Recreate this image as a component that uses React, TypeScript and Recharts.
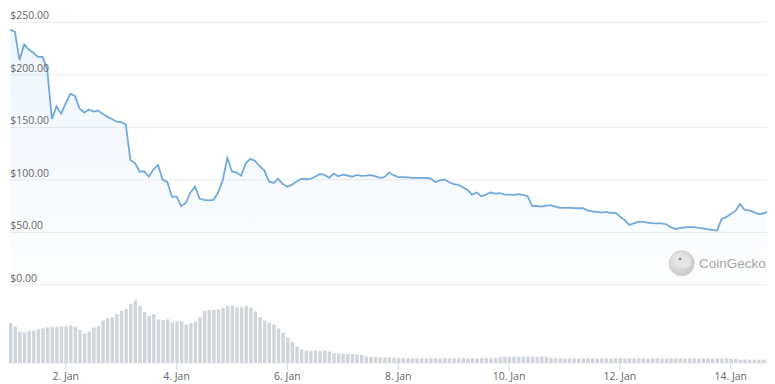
import React from "react";
import {
  ComposedChart,
  Area,
  Bar,
  XAxis,
  YAxis,
  CartesianGrid,
} from "recharts";

// Price (USD) every 2 hours starting 1 Jan 00:00
const prices: number[] = [
  243, 241, 214, 229, 224, 221, 217, 217, 205, 158,
  170, 163, 173, 182, 180, 168, 164, 167, 165, 166,
  163, 160, 158, 155.5, 155, 153, 119, 116, 108, 108,
  103, 110, 114, 100, 98, 84, 84, 75, 78, 88,
  93.6, 82, 81, 80.5, 81, 88, 100, 121, 108, 107,
  104, 116, 120, 118, 113, 109, 98.5, 97, 101, 96,
  93.5, 95.5, 98.4, 101, 100.6, 101, 103, 105.5, 105, 102,
  106, 103.5, 105, 104, 103, 104.8, 103.8, 104, 104.5, 103.5,
  102, 102.5, 107, 104.5, 102.6, 102.6, 102.3, 102, 101.9, 101.9,
  101.8, 101.5, 98, 99.5, 100.5, 98, 96, 95.2, 93, 90.5,
  86, 88, 84.5, 86, 88, 87, 87.3, 86, 86, 85.7,
  86.5, 85.7, 84.5, 75, 75.2, 74.6, 75.5, 76, 74.6, 73.5,
  73.4, 73.6, 73.2, 73, 73, 71, 70, 69.5, 68.9, 69.5,
  68.5, 68.9, 65.2, 62, 57.2, 58.7, 60, 60, 59.3, 58.8,
  58.7, 58.7, 57.8, 55, 53.3, 54, 54.8, 55, 55, 54.3,
  53.8, 53, 52.5, 51.8, 62.5, 64.5, 67.6, 70.5, 77, 71.5,
  71, 69.3, 67.5, 68, 69.8,
];

// Trading volume (USD millions) for the same periods
const volumes: number[] = [
  80, 73, 63, 61, 64, 65, 67, 69, 71, 72,
  72.6, 72.6, 73, 74.6, 72.6, 66, 59, 63, 71, 74,
  85, 89.4, 91.6, 98, 104, 108, 118, 125, 114, 102,
  94, 98, 87, 86, 87, 81, 83, 84, 77, 79.6,
  82.6, 92, 104.6, 106, 106, 107, 110, 114, 115, 111.4,
  111.4, 114, 111, 103, 92, 85, 81, 77, 69, 61,
  51, 42, 33, 27, 24.6, 24.6, 24.8, 24.4, 24.6, 23,
  19.4, 19, 18.6, 18.4, 18, 17, 16, 13, 12.4, 12,
  11, 10.8, 11.2, 10.4, 9.8, 9.4, 9.6, 9.2, 9.4, 9.6,
  9.2, 9.4, 9.4, 9.2, 9.6, 9.4, 9.2, 9.4, 9.6, 9.2,
  9.4, 9.2, 9.4, 9.6, 9.4, 9.6, 11.6, 12.4, 12.8, 12.6,
  11.8, 12.6, 12.4, 12.8, 12.2, 12.6, 12.4, 10.4, 9.6, 9.2,
  9.2, 9.0, 9.4, 9.2, 9.0, 9.4, 9.2, 9.0, 9.2, 9.4,
  9.0, 9.2, 9.4, 9.0, 9.2, 9.0, 9.4, 9.2, 9.0, 9.2,
  9.4, 9.0, 9.2, 9.4, 9.0, 9.2, 9.0, 9.4, 9.2, 9.0,
  9.2, 9.0, 8.8, 9.2, 8.6, 9.0, 8.4, 8.0, 6.6, 7.0,
  6.4, 6.8, 6.2, 6.6, 6.4,
];

const STEP_HOURS = 2;
const dayTicks: number[] = [24, 72, 120, 168, 216, 264, 312];
const priceTicks: number[] = [0, 50, 100, 150, 200, 250];

const data = prices.map((p, i) => ({
  h: i * STEP_HOURS,
  price: p,
  volume: volumes[i],
}));

const FONT = "'Open Sans', 'Noto Sans', sans-serif";

const PriceTick = (props: any) => {
  const { x, y, payload } = props;
  return (
    <text
      x={x}
      y={y - 3}
      fill="#666666"
      fontSize={10.5}
      fontFamily={FONT}
      textAnchor="start"
    >
      {`$${Number(payload.value).toFixed(2)}`}
    </text>
  );
};

export default function App() {
  return (
    <div style={{ position: "relative", width: 767, height: 376 }}>
      <ComposedChart
        width={767}
        height={376}
        data={data}
        margin={{ top: 14.3, right: 7.3, bottom: 0, left: 2.3 }}
      >
        <defs>
          <linearGradient id="priceFill" x1="0" y1="0" x2="0" y2="1">
            <stop offset="0%" stopColor="#7cb5ec" stopOpacity={0.22} />
            <stop offset="100%" stopColor="#7cb5ec" stopOpacity={0.03} />
          </linearGradient>
        </defs>
        <CartesianGrid
          yAxisId="price"
          vertical={false}
          stroke="#ececec"
          strokeWidth={1}
        />
        <XAxis
          dataKey="h"
          type="number"
          domain={[0, 328]}
          ticks={dayTicks}
          tickFormatter={(h: number) => `${1 + h / 24}. Jan`}
          axisLine={false}
          tickLine={{ stroke: "#ccd6eb" }}
          tickSize={7}
          tickMargin={3}
          height={21}
          tick={{ fill: "#666666", fontSize: 10.5, fontFamily: FONT }}
          interval={0}
        />
        <YAxis
          yAxisId="price"
          domain={[-74.29, 250]}
          ticks={priceTicks}
          mirror
          width={1}
          axisLine={false}
          tickLine={false}
          tickSize={0}
          tickMargin={0}
          tick={(p: any) => <PriceTick {...p} />}
          interval={0}
          allowDataOverflow
        />
        <YAxis yAxisId="vol" domain={[0, 681]} hide allowDataOverflow />
        <Bar
          yAxisId="vol"
          dataKey="volume"
          fill="#cfd5da"
          barSize={3.4}
          isAnimationActive={false}
        />
        <Area
          yAxisId="price"
          dataKey="price"
          type="linear"
          stroke="#72a9db"
          strokeWidth={1.8}
          fill="url(#priceFill)"
          baseValue={0}
          dot={false}
          activeDot={false}
          isAnimationActive={false}
        />
      </ComposedChart>
      <svg
        width={100}
        height={34}
        style={{ position: "absolute", left: 660, top: 238 }}
      >
        <defs>
          <radialGradient id="cgLogo" cx="40%" cy="35%" r="70%">
            <stop offset="0%" stopColor="#f2f2f2" />
            <stop offset="100%" stopColor="#c6c6c6" />
          </radialGradient>
        </defs>
        <circle cx={13.7} cy={17.3} r={12.5} fill="url(#cgLogo)" stroke="#d0d0d0" />
        <ellipse cx={16} cy={16} rx={7} ry={6} fill="#e6e6e6" />
        <circle cx={12} cy={13} r={1.3} fill="#8a8a8a" />
      </svg>
      <div
        style={{
          position: "absolute",
          left: 691,
          top: 248,
          fontFamily: "'Liberation Sans', Arial, sans-serif",
          fontSize: 13.5,
          color: "#a6a6a6",
          lineHeight: "16px",
          whiteSpace: "nowrap",
        }}
      >
        CoinGecko
      </div>
    </div>
  );
}
